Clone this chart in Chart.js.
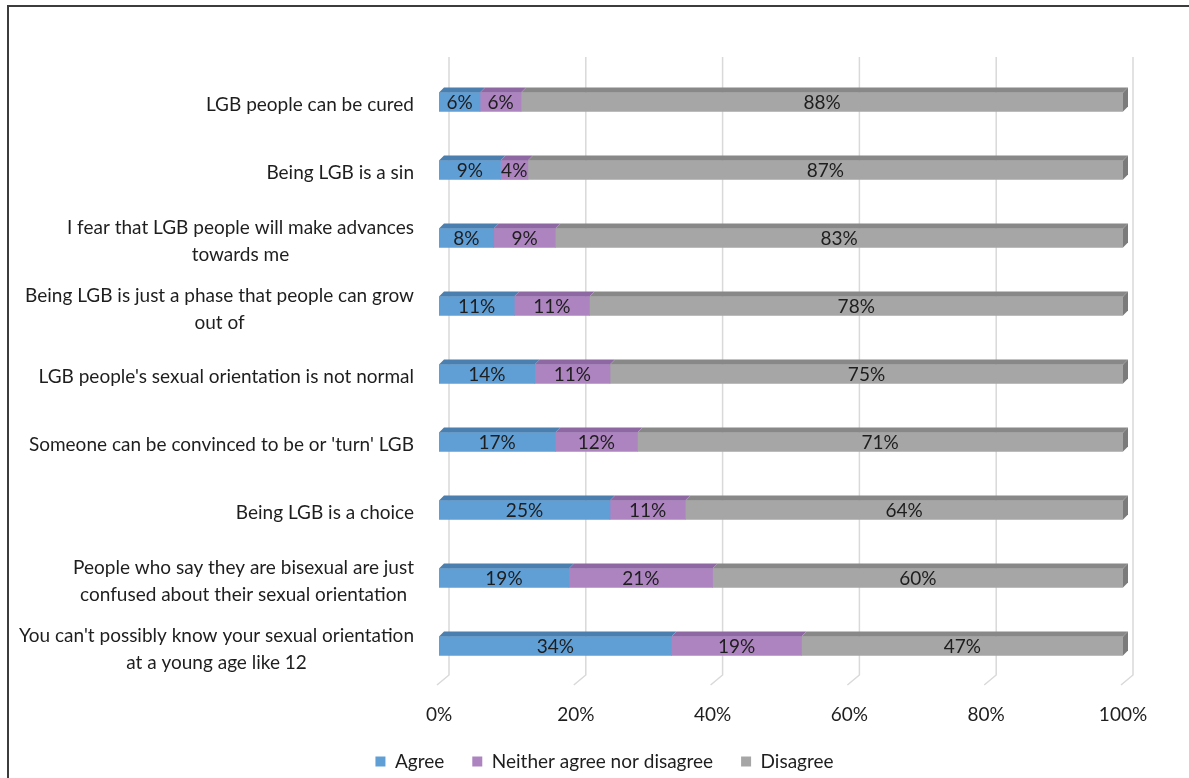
<!DOCTYPE html>
<html>
<head>
<meta charset="utf-8">
<script src="https://cdn.jsdelivr.net/npm/chart.js@4/dist/chart.umd.min.js"></script>
<style>
	html, body { margin: 0; padding: 0; background: #fff; }
	#wrap { position: relative; width: 1189px; height: 778px; overflow: hidden; }
	#frame { position: absolute; left: 7px; top: 5px; width: 1300px; height: 900px; border-left: 2px solid #3c3c3c; border-top: 2px solid #3c3c3c; }
	#chart { position: absolute; left: 0; top: 0; }
</style>
</head>
<body>
<div id="wrap">
	<div id="frame"></div>
	<canvas id="chart" width="1189" height="778"></canvas>
</div>
<script>
// Statements (top to bottom)
const statements = [
	['LGB people can be cured'],
	['Being LGB is a sin'],
	['I fear that LGB people will make advances', 'towards me'],
	['Being LGB is just a phase that people can grow', 'out of'],
	["LGB people's sexual orientation is not normal"],
	["Someone can be convinced to be or 'turn' LGB"],
	['Being LGB is a choice'],
	['People who say they are bisexual are just', 'confused about their sexual orientation'],
	["You can't possibly know your sexual orientation", 'at a young age like 12']
];

const agree = [6, 9, 8, 11, 14, 17, 25, 19, 34];
const neither = [6, 4, 9, 11, 11, 12, 11, 21, 19];
const disagree = [88, 87, 83, 78, 75, 71, 64, 60, 47];

const xTicks = [0, 20, 40, 60, 80, 100];

const FONT = 'Lato, Calibri, "Open Sans", sans-serif';
const FS = 19;
const DEPTH = 5;

// back-wall gridlines with the little slanted foot of the Excel 3D floor
const backGrid = {
	id: 'backGrid',
	beforeDatasetsDraw(chart) {
		const { ctx, chartArea, scales } = chart;
		ctx.save();
		ctx.strokeStyle = '#d9d9d9';
		ctx.lineWidth = 1.5;
		xTicks.forEach((v) => {
			const px = scales.x.getPixelForValue(v);
			ctx.beginPath();
			ctx.moveTo(px + 10, chartArea.top - 11);
			ctx.lineTo(px + 10, chartArea.bottom - 5);
			ctx.lineTo(px - 2, chartArea.bottom + 5);
			ctx.stroke();
		});
		ctx.restore();
	}
};

// top faces, right side face and value labels
const bar3d = {
	id: 'bar3d',
	afterDatasetsDraw(chart) {
		const { ctx } = chart;
		const n = chart.data.datasets.length;
		ctx.save();
		chart.data.datasets.forEach((ds, di) => {
			const meta = chart.getDatasetMeta(di);
			meta.data.forEach((el) => {
				const { x, y, base, height } = el.getProps(['x', 'y', 'base', 'height'], true);
				const top = y - height / 2;
				const bottom = y + height / 2;
				ctx.fillStyle = ds.topColor;
				ctx.beginPath();
				ctx.moveTo(base, top);
				ctx.lineTo(base + DEPTH, top - DEPTH);
				ctx.lineTo(x + DEPTH, top - DEPTH);
				ctx.lineTo(x, top);
				ctx.closePath();
				ctx.fill();
				if (di === n - 1) {
					ctx.fillStyle = '#7b7b7b';
					ctx.beginPath();
					ctx.moveTo(x, top);
					ctx.lineTo(x + DEPTH, top - DEPTH);
					ctx.lineTo(x + DEPTH, bottom - DEPTH);
					ctx.lineTo(x, bottom);
					ctx.closePath();
					ctx.fill();
				}
			});
		});
		ctx.font = FS + 'px ' + FONT;
		ctx.fillStyle = '#1e1e1e';
		ctx.textAlign = 'center';
		ctx.textBaseline = 'middle';
		chart.data.datasets.forEach((ds, di) => {
			const meta = chart.getDatasetMeta(di);
			meta.data.forEach((el, i) => {
				const { x, y, base } = el.getProps(['x', 'y', 'base'], true);
				ctx.fillText(ds.data[i] + '%', (x + base) / 2, y + 1);
			});
		});
		ctx.restore();
	}
};

// category labels: right block, lines centred on the widest line
const catLabels = {
	id: 'catLabels',
	afterDraw(chart) {
		const { ctx, scales } = chart;
		const right = 414;
		const lh = 27;
		ctx.save();
		ctx.font = FS + 'px ' + FONT;
		ctx.fillStyle = '#1e1e1e';
		ctx.textAlign = 'center';
		ctx.textBaseline = 'middle';
		statements.forEach((lines, i) => {
			const cy = scales.y.getPixelForValue(i) + 3;
			const widest = Math.max(...lines.map(l => ctx.measureText(l).width));
			const cx = right - widest / 2;
			const y0 = cy - (lines.length - 1) * lh / 2;
			lines.forEach((l, k) => ctx.fillText(l, cx, y0 + k * lh));
		});
		ctx.restore();
	}
};

const hidden = {
	ticks: { display: false },
	grid: { display: false, drawTicks: false },
	border: { display: false }
};

new Chart(document.getElementById('chart'), {
	type: 'bar',
	data: {
		labels: statements.map(s => s.join(' ')),
		datasets: [
			{ label: 'Agree', data: agree, backgroundColor: '#5f9fd6', topColor: '#4a7fb0', xAxisID: 'x', yAxisID: 'y' },
			{ label: 'Neither agree nor disagree', data: neither, backgroundColor: '#ad84c0', topColor: '#8e68a3', xAxisID: 'x', yAxisID: 'y' },
			{ label: 'Disagree', data: disagree, backgroundColor: '#a6a6a6', topColor: '#888888', xAxisID: 'x', yAxisID: 'y' }
		]
	},
	options: {
		indexAxis: 'y',
		responsive: false,
		animation: false,
		devicePixelRatio: 1,
		barThickness: 19,
		layout: { padding: { left: 20, right: 0, top: 68, bottom: 6 } },
		scales: {
			x: {
				stacked: true,
				min: 0,
				max: 100,
				afterBuildTicks: (s) => { s.ticks = xTicks.map(v => ({ value: v })); },
				afterFit: (s) => { s.height = 44; },
				ticks: { callback: v => v + '%', color: '#1e1e1e', font: { family: FONT, size: FS }, padding: 23 },
				grid: { display: false, drawTicks: false },
				border: { display: false }
			},
			y: { stacked: true, position: 'left', ...hidden, afterFit: (s) => { s.width = 419; } },
			yr: { type: 'linear', position: 'right', ...hidden, afterFit: (s) => { s.width = 66; } }
		},
		plugins: {
			legend: {
				position: 'bottom',
				maxHeight: 48,
				labels: { boxWidth: 10, boxHeight: 10, padding: 28, color: '#1e1e1e', font: { family: FONT, size: FS } }
			},
			tooltip: { enabled: false }
		}
	},
	plugins: [backGrid, bar3d, catLabels]
});
</script>
</body>
</html>
